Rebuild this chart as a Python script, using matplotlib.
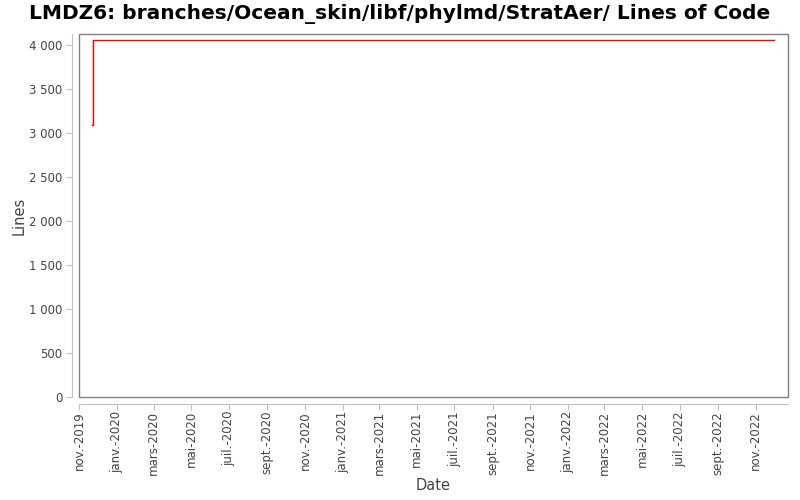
import datetime as dt
import matplotlib
matplotlib.use("Agg")
import matplotlib.pyplot as plt
import matplotlib.dates as mdates
from matplotlib.patches import Rectangle
from matplotlib.ticker import FuncFormatter, MultipleLocator

# Données
dates = [dt.date(2019, 11, 22), dt.date(2019, 11, 23), dt.date(2021, 1, 11),
         dt.date(2021, 11, 17), dt.date(2022, 12, 1)]
lignes = [3086, 4052, 4054, 4056, 4060]

mois_fr = ["janv.", "févr.", "mars", "avr.", "mai", "juin",
           "juil.", "août", "sept.", "oct.", "nov.", "déc."]

titre = "LMDZ6: branches/Ocean_skin/libf/phylmd/StratAer/ Lines of Code"

gris_texte = "#444444"
gris_axe = "#c0c0c0"


def etiquette_mois(v, p):
    d = mdates.num2date(v)
    return f"{mois_fr[d.month - 1]}-{d.year}"


fig = plt.figure(figsize=(8, 5), dpi=100)
ax = fig.add_axes([0.09875, 0.206, 0.886, 0.726])

ax.plot(dates, lignes, color="red", linewidth=1, drawstyle="steps-post")

ax.set_xlim(dt.date(2019, 11, 1), dt.date(2022, 12, 23))
ax.set_ylim(0, 4123)

ax.yaxis.set_major_locator(MultipleLocator(500))
ax.yaxis.set_major_formatter(
    FuncFormatter(lambda v, p: f"{int(v):,}".replace(",", " ")))

ax.xaxis.set_major_locator(mdates.MonthLocator(bymonth=[1, 3, 5, 7, 9, 11]))
ax.xaxis.set_major_formatter(FuncFormatter(etiquette_mois))

ax.tick_params(axis="both", direction="out", length=4, width=0.8,
               color=gris_axe, labelcolor=gris_texte, labelsize=8.5, pad=3)
ax.tick_params(axis="x", labelrotation=90, pad=1)

for s in ["top", "right"]:
    ax.spines[s].set_visible(False)
for s in ["left", "bottom"]:
    ax.spines[s].set_position(("outward", 5))
    ax.spines[s].set_color(gris_axe)
    ax.spines[s].set_linewidth(0.8)

# cadre de la zone de tracé
ax.add_patch(Rectangle((0, 0), 1, 1, transform=ax.transAxes, fill=False,
                       edgecolor="#808080", linewidth=1, clip_on=False))

ax.set_xlabel("Date", fontsize=10.5, color=gris_texte, labelpad=2)
ax.set_ylabel("Lines", fontsize=10.5, color=gris_texte, labelpad=2)

fig.text(0.5, 0.972, titre, ha="center", va="center",
         fontsize=14.5, fontweight="bold", color="black")

plt.savefig("out.png", dpi=100)
